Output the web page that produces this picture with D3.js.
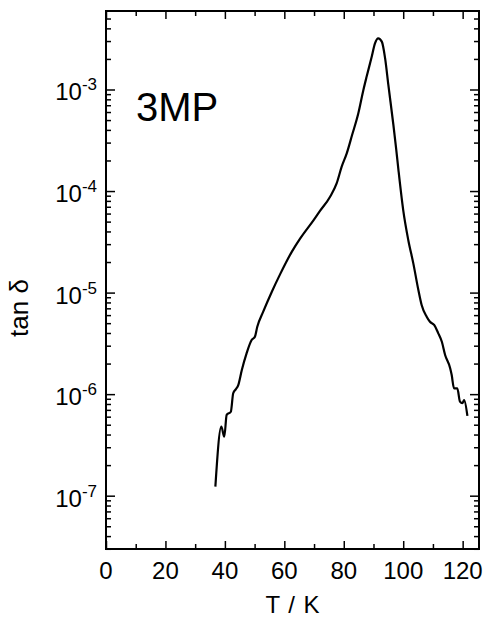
<!DOCTYPE html>
<html>
<head>
<meta charset="utf-8">
<script src="https://cdn.jsdelivr.net/npm/d3@7"></script>
<style>
    body { margin: 0; background: #fff; }
    svg { display: block; font-family: "Liberation Sans", Arial, sans-serif; }
</style>
</head>
<body>
<div id="chart"></div>
<script>
// temperature (K) and tan delta
const temps = [36.8, 38.8, 39.8, 40.6, 42.0, 42.8, 43.7, 44.5, 45.7, 47.3, 49.0, 50.1, 50.9, 52.9,
    55.8, 58.6, 62.5, 65.3, 69.8, 72.0, 75.4, 77.6, 79.3, 81.0, 82.8, 84.9, 86.6, 87.7, 89.4,
    90.5, 91.6, 92.8, 93.9, 95.0, 96.7, 97.6, 98.4, 100.0, 101.7, 103.4, 105.1, 106.2, 107.9,
    109.0, 110.4, 111.8, 113.0, 114.1, 115.8, 116.3, 117.1, 118.2, 119.1, 119.9, 120.5, 121.6];
const tanDelta = [1.23e-7, 4.78e-7, 3.81e-7, 6.24e-7, 6.71e-7, 1.02e-6, 1.12e-6, 1.23e-6, 1.73e-6,
    2.52e-6, 3.41e-6, 3.68e-6, 4.61e-6, 6.49e-6, 1.02e-5, 1.52e-5, 2.52e-5, 3.40e-5, 5.15e-5,
    6.37e-5, 8.79e-5, 1.19e-4, 1.74e-4, 2.35e-4, 3.56e-4, 5.83e-4, 9.89e-4, 1.34e-3, 2.10e-3,
    2.85e-3, 3.19e-3, 2.96e-3, 2.04e-3, 1.11e-3, 4.47e-4, 2.65e-4, 1.61e-4, 6.50e-5, 3.30e-5,
    1.94e-5, 1.06e-5, 7.55e-6, 5.79e-6, 5.16e-6, 4.80e-6, 3.97e-6, 3.28e-6, 2.43e-6, 1.80e-6,
    1.55e-6, 1.14e-6, 1.14e-6, 8.43e-7, 8.13e-7, 8.75e-7, 6.10e-7];

const xMajor = [0, 20, 40, 60, 80, 100, 120];
const xMinor = [10, 30, 50, 70, 90, 110];
const yExponents = [-7, -6, -5, -4, -3];

const width = 487, height = 624;
const margin = {top: 11, right: 8, bottom: 75, left: 106};

const svg = d3.select("#chart").append("svg")
    .attr("width", width)
    .attr("height", height);

const x = d3.scaleLinear()
    .domain([0, 125.5])
    .range([margin.left, width - margin.right]);
const y = d3.scaleLog()
    .domain([Math.pow(10, -7.525), Math.pow(10, -2.227)])
    .range([height - margin.bottom, margin.top]);

const yMajor = yExponents.map(e => Math.pow(10, e));
let yMinor = [];
for (let e = -8; e <= -3; e++) {
    for (let k = 2; k <= 9; k++) {
        const v = k * Math.pow(10, e);
        if (v > y.domain()[0] && v < y.domain()[1]) yMinor.push(v);
    }
}

const x0 = margin.left, x1 = width - margin.right;
const y0 = height - margin.bottom, y1 = margin.top;

function styleAxis(g) {
    g.select(".domain").remove();
    g.selectAll(".tick line").attr("stroke", "#000").attr("stroke-width", 1.5);
}

// ticks, all pointing inward
svg.append("g").attr("transform", `translate(0,${y0})`)
    .call(d3.axisBottom(x).tickValues(xMajor).tickSize(-8).tickFormat(""))
    .call(styleAxis);
svg.append("g").attr("transform", `translate(0,${y0})`)
    .call(d3.axisBottom(x).tickValues(xMinor).tickSize(-5).tickFormat(""))
    .call(styleAxis);
svg.append("g").attr("transform", `translate(0,${y1})`)
    .call(d3.axisTop(x).tickValues(xMajor).tickSize(-8).tickFormat(""))
    .call(styleAxis);
svg.append("g").attr("transform", `translate(0,${y1})`)
    .call(d3.axisTop(x).tickValues(xMinor).tickSize(-5).tickFormat(""))
    .call(styleAxis);
svg.append("g").attr("transform", `translate(${x0},0)`)
    .call(d3.axisLeft(y).tickValues(yMajor).tickSize(-9).tickFormat(""))
    .call(styleAxis);
svg.append("g").attr("transform", `translate(${x0},0)`)
    .call(d3.axisLeft(y).tickValues(yMinor).tickSize(-5).tickFormat(""))
    .call(styleAxis);
svg.append("g").attr("transform", `translate(${x1},0)`)
    .call(d3.axisRight(y).tickValues(yMajor).tickSize(-9).tickFormat(""))
    .call(styleAxis);
svg.append("g").attr("transform", `translate(${x1},0)`)
    .call(d3.axisRight(y).tickValues(yMinor).tickSize(-5).tickFormat(""))
    .call(styleAxis);

// frame
svg.append("rect")
    .attr("x", x0).attr("y", y1)
    .attr("width", x1 - x0).attr("height", y0 - y1)
    .attr("fill", "none")
    .attr("stroke", "#000")
    .attr("stroke-width", 2);

// x tick labels
svg.selectAll(".xlabel")
    .data(xMajor)
    .join("text")
    .attr("x", d => x(d))
    .attr("y", 579)
    .attr("text-anchor", "middle")
    .attr("font-size", 24)
    .text(d => d);

// y tick labels with superscript exponents
const ylab = svg.selectAll(".ylabel")
    .data(yExponents)
    .join("text")
    .attr("x", 97)
    .attr("y", d => y(Math.pow(10, d)) + 11)
    .attr("text-anchor", "end")
    .attr("font-size", 24);
ylab.append("tspan").text("10");
ylab.append("tspan")
    .attr("dy", -10)
    .attr("font-size", 17)
    .text(d => "-" + Math.abs(d));

// axis titles
svg.append("text")
    .attr("x", (x0 + x1) / 2)
    .attr("y", 613)
    .attr("text-anchor", "middle")
    .attr("font-size", 24)
    .attr("word-spacing", 2)
    .text("T / K");
svg.append("text")
    .attr("transform", "translate(28,308) rotate(-90)")
    .attr("text-anchor", "middle")
    .attr("font-size", 26)
    .text("tan δ");

// sample label
svg.append("text")
    .attr("x", 136)
    .attr("y", 121)
    .attr("font-size", 40)
    .text("3MP");

// the curve
const line = d3.line()
    .x((d, i) => x(temps[i]))
    .y(d => y(d))
    .curve(d3.curveMonotoneX);
svg.append("path")
    .datum(tanDelta)
    .attr("d", line)
    .attr("fill", "none")
    .attr("stroke", "#000")
    .attr("stroke-width", 2.2)
    .attr("stroke-linejoin", "round");
</script>
</body>
</html>
